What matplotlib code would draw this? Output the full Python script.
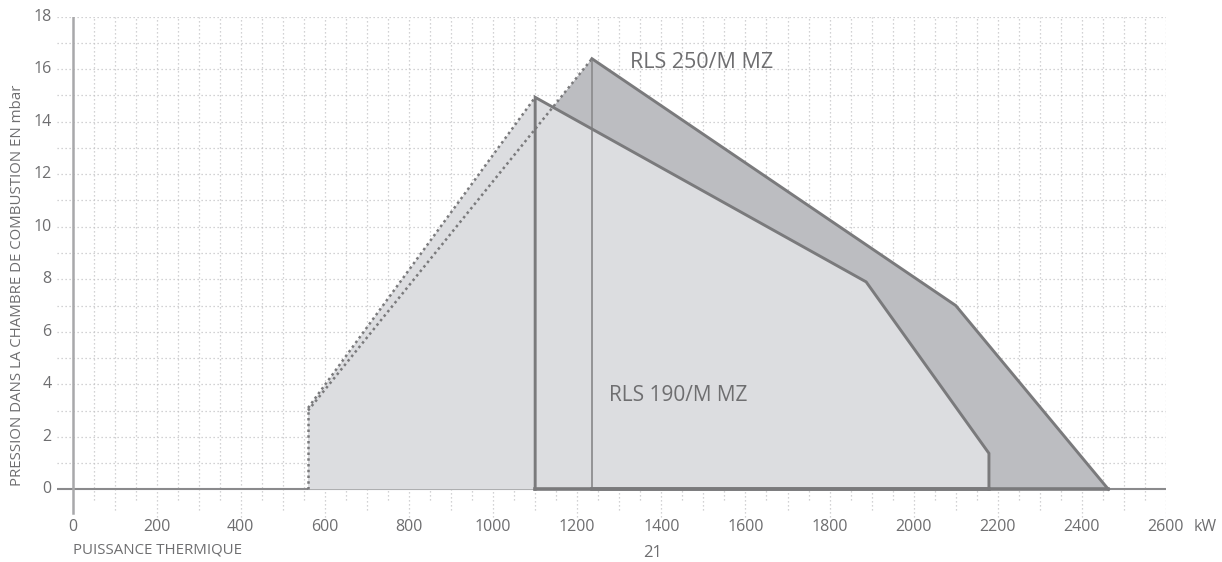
import matplotlib
matplotlib.use("Agg")
import matplotlib.pyplot as plt
import numpy as np

# ---- data ----
rls190_x = [560, 1100, 1887, 2179, 2179]
rls190_y = [3.1, 14.93, 7.9, 1.37, 0.0]
rls250_x = [560, 1235, 2100, 2463]
rls250_y = [3.0, 16.4, 7.0, 0.0]
x_ticks = [0, 200, 400, 600, 800, 1000, 1200, 1400, 1600, 1800, 2000, 2200, 2400, 2600]
y_ticks = [0, 2, 4, 6, 8, 10, 12, 14, 16, 18]
label_190 = "RLS 190/M MZ"
label_250 = "RLS 250/M MZ"

TXT = "#6e6e70"
GRID = "#c4c4c6"
LINE = "#7a7a7c"
LIGHT = "#dcdde0"
DARK = "#bcbdc1"

plt.rcParams['font.family'] = ['Open Sans', 'DejaVu Sans']

W, H = 1222, 562
fig = plt.figure(figsize=(W / 100, H / 100), dpi=100)
x0, x1 = 57, 1166
ytop, ybot = 16.7, 518.2
ax = fig.add_axes([x0 / W, 1 - ybot / H, (x1 - x0) / W, (ybot - ytop) / H])
XMIN, XMAX = -37, 2600
YMIN, YMAX = -1.1, 18
ax.set_xlim(XMIN, XMAX)
ax.set_ylim(YMIN, YMAX)
for s in ax.spines.values():
    s.set_visible(False)

# grid: horizontal every 1 mbar, vertical every 50 kW
for yv in np.arange(1, 19, 1):
    ax.plot([XMIN, XMAX], [yv, yv], color=GRID, lw=0.9, ls=(0, (1, 2.2)), zorder=0)
for xv in np.arange(50, 2601, 50):
    if xv % 200 == 0:
        lo = -1.05
    elif xv % 100 == 0:
        lo = -0.8
    else:
        lo = -0.4
    ax.plot([xv, xv], [lo, 18], color=GRID, lw=0.9, ls=(0, (1, 2.2)), zorder=0)

# zero line and y axis
ax.plot([XMIN, XMAX], [0, 0], color="#8a8a8c", lw=1.5, zorder=1)
ax.plot([0, 0], [-0.9, 18], color="#a8a8aa", lw=1.8, zorder=1)

# RLS 250 polygon (dark)
p250x = [rls250_x[0]] + rls250_x + [rls250_x[0]]
p250y = [0] + rls250_y + [0]
ax.fill(p250x, p250y, color=DARK, lw=0, zorder=2)
# RLS 190 polygon (light)
p190x = [rls190_x[0]] + rls190_x + [rls190_x[0]]
p190y = [0] + rls190_y + [0]
ax.fill(p190x, p190y, color=LIGHT, lw=0, zorder=3)

# dotted parts
ax.plot([rls190_x[0], rls190_x[0]], [0, rls190_y[0]], color=LINE, lw=1.8, ls=(0, (1, 1.3)), zorder=5)
ax.plot(rls190_x[:2], rls190_y[:2], color=LINE, lw=1.8, ls=(0, (1, 1.3)), zorder=5)
ax.plot(rls250_x[:2], rls250_y[:2], color=LINE, lw=1.8, ls=(0, (1, 1.3)), zorder=5)

# 250 outline solid
ax.plot([rls250_x[1], rls250_x[1]], [0, rls250_y[1]], color="#8e8e90", lw=1.3, zorder=6)
ax.plot(rls250_x[1:], rls250_y[1:], color=LINE, lw=2.1, zorder=6, solid_joinstyle='miter')
ax.plot([rls250_x[1], rls250_x[-1]], [0, 0], color=LINE, lw=2.6, zorder=6)
# 190 outline solid
ax.plot([rls190_x[1]] + rls190_x[1:], [0] + rls190_y[1:], color=LINE, lw=2.1, zorder=7, solid_joinstyle='miter')
ax.plot([rls190_x[1], rls190_x[-1]], [0, 0], color=LINE, lw=2.6, zorder=7)

# tick labels
ax.set_xticks([])
ax.set_yticks([])
for xv in x_ticks:
    ax.text(xv, -1.44, str(xv), ha="center", va="center", fontsize=11.5, color=TXT)
for yv in y_ticks:
    ax.text(-50, yv, str(yv), ha="right", va="center", fontsize=11.5, color=TXT)

fig.text(1205 / W, 1 - 527 / H, "kW", ha="center", va="center", fontsize=11.5, color=TXT)
fig.text(73 / W, 1 - 550 / H, "PUISSANCE THERMIQUE", ha="left", va="center", fontsize=10.8, color=TXT)
fig.text(18 / W, 1 - 285 / H, "PRESSION DANS LA CHAMBRE DE COMBUSTION EN mbar", rotation=90,
         ha="center", va="center", fontsize=10.8, color=TXT)
fig.text(653 / W, 1 - 553 / H, "21", ha="center", va="center", fontsize=12, color=TXT)

ax.text(1325, 16.27, label_250, ha="left", va="center", fontsize=15.5, color=TXT, zorder=8)
ax.text(1275, 3.59, label_190, ha="left", va="center", fontsize=15, color=TXT, zorder=8)

fig.savefig("out.png", dpi=100)
